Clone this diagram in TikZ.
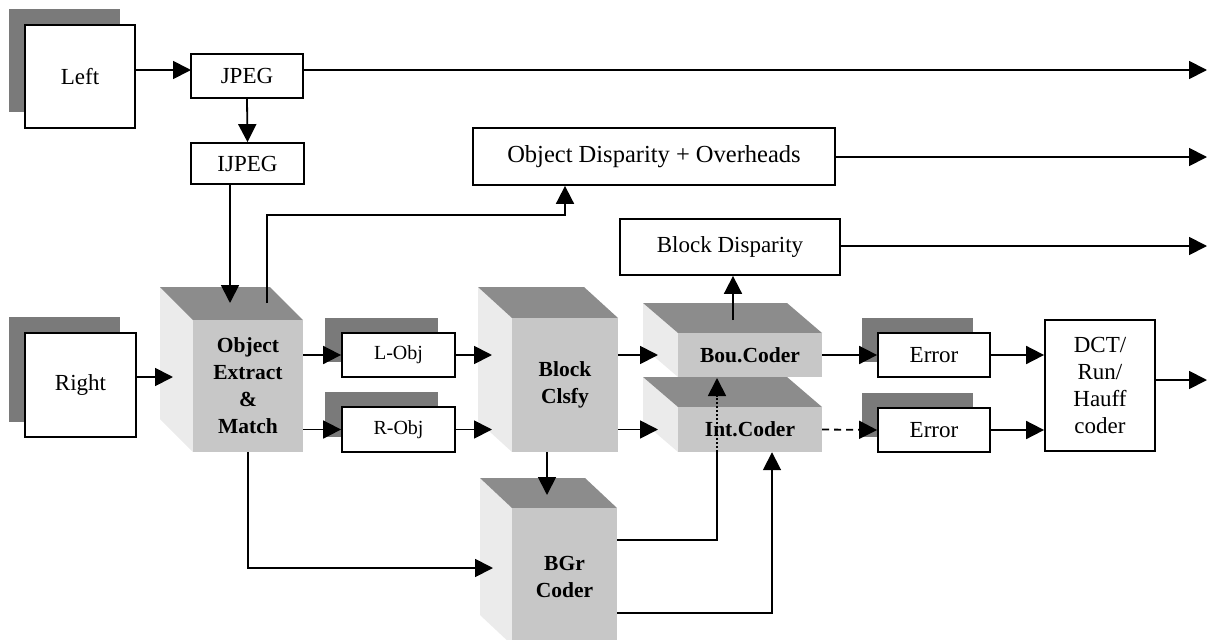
\documentclass[tikz,border=0pt]{standalone}
\usepackage{fontspec}
\setmainfont{Liberation Serif}
\usetikzlibrary{arrows.meta,calc}
\tikzset{
  box/.style={draw, line width=1.8pt, fill=white, inner sep=0pt, align=center,
    font=\fontsize{23}{27}\selectfont},
  smallbox/.style={box, font=\fontsize{20}{24}\selectfont},
  shade/.style={fill=black!52},
  frontface/.style={fill=black!22, inner sep=0pt, align=center,
    font=\fontsize{21.5}{27}\selectfont\bfseries},
  topface/.style={fill=black!45},
  sideface/.style={fill=black!8},
  ln/.style={line width=1.8pt},
  arr/.style={line width=1.8pt, -{Triangle[length=18pt,width=18pt]}},
}
% front face corners x1 y1 x2 y2, depth dx dy
\newcommand\cubefaces[6]{%
  \fill[sideface] (#1-#5,#2-#6) -- (#1,#2) -- (#1,#4) -- (#1-#5,#4-#6) -- cycle;
  \fill[topface] (#1-#5,#2-#6) -- (#3-#5,#2-#6) -- (#3,#2) -- (#1,#2) -- cycle;
}
\begin{document}
\begin{tikzpicture}[x=1pt,y=-1pt]
\useasboundingbox (0,0) rectangle (1208,640);
\clip (0,0) rectangle (1208,640);

% shadows
\fill[shade] (9,9) rectangle (120,112);
\fill[shade] (9,317) rectangle (120,422);
\fill[shade] (325,318) rectangle (438,362);
\fill[shade] (325,392) rectangle (438,437);
\fill[shade] (862,318) rectangle (973,362);
\fill[shade] (862,393) rectangle (973,437);

% plain boxes
\node[box, minimum width=110pt, minimum height=103pt] (left) at (80,76.5) {Left};
\node[box, minimum width=112pt, minimum height=44pt] (jpeg) at (247,76) {JPEG};
\node[box, minimum width=113pt, minimum height=41pt] (ijpeg) at (247.5,163.5) {IJPEG};
\node[box, minimum width=362pt, minimum height=57pt, font=\fontsize{24.5}{28}\selectfont] (objdisp) at (654,156.5) {Object Disparity + Overheads};
\node[box, minimum width=220pt, minimum height=56pt] (blockdisp) at (730,247) {Block Disparity};
\node[box, minimum width=111pt, minimum height=104pt] (right) at (80.5,385) {Right};
\node[smallbox, minimum width=113pt, minimum height=44pt] (lobj) at (398.5,355) {L-Obj};
\node[smallbox, minimum width=113pt, minimum height=45pt] (robj) at (398.5,429.5) {R-Obj};
\node[box, minimum width=112pt, minimum height=44pt] (err1) at (934,355) {Error};
\node[box, minimum width=112pt, minimum height=44pt] (err2) at (934,430) {Error};
\node[box, minimum width=110pt, minimum height=131pt] (dct) at (1100,385.5) {DCT/\\Run/\\Hauff\\coder};

% 3D blocks
\cubefaces{193}{320}{303}{452}{33}{33}
\node[frontface, minimum width=110pt, minimum height=132pt] (obj) at (248,386) {Object\\Extract\\\&\\Match};
\cubefaces{512}{318}{618}{452}{34}{31}
\node[frontface, minimum width=106pt, minimum height=134pt] (block) at (565,385) {Block\\Clsfy};
\cubefaces{678}{333}{822}{377}{35}{30}
\node[frontface, minimum width=144pt, minimum height=44pt] (bou) at (750,355) {Bou.Coder};
\cubefaces{678}{407}{822}{452}{35}{30}
\node[frontface, minimum width=144pt, minimum height=45pt] (int) at (750,429.5) {Int.Coder};
\cubefaces{512}{508}{617}{645}{32}{30}
\node[frontface, minimum width=105pt, minimum height=137pt] (bgr) at (564.5,576.5) {BGr\\Coder};

% coordinates
\coordinate (jpegin) at (191,70);
\coordinate (out1) at (1207,70);
\coordinate (out2) at (1207,157);
\coordinate (out3) at (1207,246);
\coordinate (out4) at (1207,380);
\coordinate (objin) at (230,303);
\coordinate (objout) at (267,303);
\coordinate (odturn) at (565,215);
\coordinate (rin) at (173,377);
\coordinate (blkin) at (492,0);
\coordinate (coderin) at (658,0);
\coordinate (bouout) at (733,320);
\coordinate (bgrin) at (547,495);
\coordinate (bgrleft) at (493,568);
\coordinate (dotx) at (717,378);
\coordinate (bgrout1) at (bgr.east |- 0,540);
\coordinate (bgrout2) at (bgr.east |- 0,613);
\coordinate (intin) at (772,0);

% connectors
\draw[arr] (left.east |- jpegin) -- (jpegin);
\draw[arr] (jpeg.east |- out1) -- (out1);
\draw[arr] (jpeg.south) -- (ijpeg.north);
\draw[arr] (ijpeg.south -| objin) -- (objin);
\draw[arr] (objout) |- (odturn) -- (odturn |- objdisp.south);
\draw[arr] (objdisp.east |- out2) -- (out2);
\draw[arr] (blockdisp.east |- out3) -- (out3);
\draw[arr] (right.east |- rin) -- (rin);
\draw[arr] (obj.east |- lobj) -- (lobj.west);
\draw[arr] (obj.east |- robj) -- (robj.west);
\draw[arr] (lobj.east) -- (lobj.east -| blkin);
\draw[arr] (robj.east) -- (robj.east -| blkin);
\draw[arr] (block.east |- bou) -- (bou -| coderin);
\draw[arr] (block.east |- int) -- (int -| coderin);
\draw[arr] (bouout) -- (bouout |- blockdisp.south);
\draw[arr] (bou.east) -- (err1.west);
\draw[arr, dash pattern=on 7pt off 5pt] (int.east) -- (err2.west);
\draw[arr] (err1.east) -- (err1.east -| dct.west);
\draw[arr] (err2.east) -- (err2.east -| dct.west);
\draw[arr] (dct.east |- out4) -- (out4);
\draw[arr] (block.south -| bgrin) -- (bgrin);
\draw[arr] (obj.south) |- (bgrleft);
\draw[ln] (bgrout1) -| (dotx |- int.south);
\draw[arr, dash pattern=on 2pt off 2pt] (dotx |- int.south) -- (dotx);
\draw[arr] (bgrout2) -| (int.south -| intin);
\end{tikzpicture}
\end{document}
